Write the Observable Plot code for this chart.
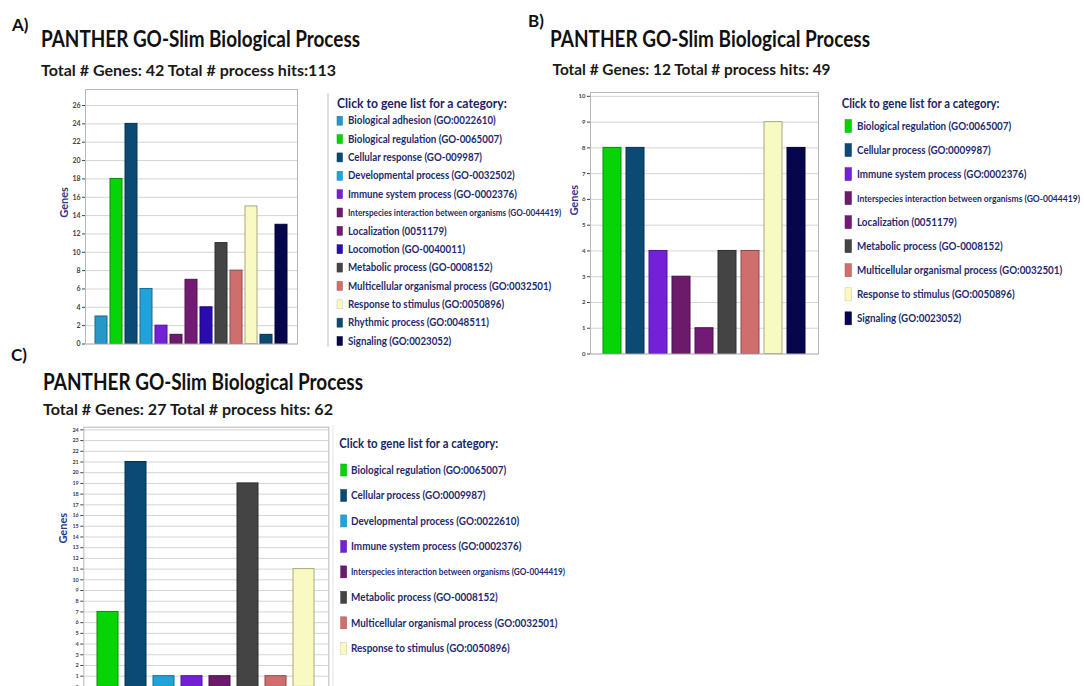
<!DOCTYPE html>
<html>
<head>
<meta charset="utf-8">
<script src="https://cdn.jsdelivr.net/npm/d3@7"></script>
<script src="https://cdn.jsdelivr.net/npm/@observablehq/plot@0.6"></script>
<style>
  html, body { margin: 0; padding: 0; background: #fff; overflow: hidden; }
  #fig { position: relative; width: 1084px; height: 686px; overflow: hidden; background: #fff;
         font-family: Lato, "Open Sans", sans-serif; }
  #fig > svg { position: absolute; overflow: visible; }
</style>
</head>
<body>
<div id="fig"></div>
<script>
// ---------- Panel A: 42 genes, 113 process hits ----------
const categoriesA = [
  "Biological adhesion", "Biological regulation", "Cellular response", "Developmental process",
  "Immune system process", "Interspecies interaction between organisms", "Localization",
  "Locomotion", "Metabolic process", "Multicellular organismal process",
  "Response to stimulus", "Rhythmic process", "Signaling"
];
const goIdsA = [
  " (GO:0022610)", "(GO-0065007)", "(GO-009987)", "(GO-0032502)", "(GO-0002376)",
  "(GO-0044419)", "(0051179)", "(GO-0040011)", "(GO-0008152)", "(GO:0032501)",
  "(GO:0050896)", "(GO:0048511)", "(GO:0023052)"
];
const genesA = [3, 18, 24, 6, 2, 1, 7, 4, 11, 8, 15, 1, 13];
const ticksA = [0, 2, 4, 6, 8, 10, 12, 14, 16, 18, 20, 22, 24, 26];

// ---------- Panel B: 12 genes, 49 process hits ----------
const categoriesB = [
  "Biological regulation", "Cellular process", "Immune system process",
  "Interspecies interaction between organisms", "Localization", "Metabolic process",
  "Multicellular organismal process", "Response to stimulus", "Signaling"
];
const goIdsB = [
  " (GO:0065007)", " (GO:0009987)", "(GO:0002376)", "(GO-0044419)", "(0051179)",
  "(GO-0008152)", "(GO:0032501)", "(GO:0050896)", "(GO:0023052)"
];
const genesB = [8, 8, 4, 3, 1, 4, 4, 9, 8];
const ticksB = [0, 1, 2, 3, 4, 5, 6, 7, 8, 9, 10];

// ---------- Panel C: 27 genes, 62 process hits ----------
const categoriesC = [
  "Biological regulation", "Cellular process", "Developmental process", "Immune system process",
  "Interspecies interaction between organisms", "Metabolic process",
  "Multicellular organismal process", "Response to stimulus"
];
const goIdsC = [
  " (GO:0065007)", " (GO:0009987)", "(GO:0022610)", "(GO:0002376)", "(GO-0044419)",
  "(GO-0008152)", "(GO:0032501)", "(GO:0050896)"
];
const genesC = [7, 21, 1, 1, 1, 19, 1, 11];
const ticksC = [0, 1, 2, 3, 4, 5, 6, 7, 8, 9, 10, 11, 12, 13, 14, 15, 16, 17, 18, 19, 20, 21, 22, 23, 24];

// Headline text
const titleText = "PANTHER GO-Slim Biological Process";
const subtitles = {
  A: "Total # Genes: 42 Total # process hits:113",
  B: "Total # Genes: 12 Total # process hits: 49",
  C: "Total # Genes: 27 Total # process hits: 62"
};
const legendHeader = "Click to gene list for a category:";

// PANTHER category colours
const palette = {
  "Biological adhesion": "#2797c8",
  "Biological regulation": "#06d406",
  "Cellular response": "#0b4a74",
  "Cellular process": "#0b4a74",
  "Developmental process": "#1fa3da",
  "Immune system process": "#7420d6",
  "Interspecies interaction between organisms": "#6c1a6a",
  "Localization": "#731a74",
  "Locomotion": "#2a0bb0",
  "Metabolic process": "#444444",
  "Multicellular organismal process": "#d06e6e",
  "Response to stimulus": "#f9f9c2",
  "Rhythmic process": "#0b4a70",
  "Signaling": "#05064c"
};
// the long interspecies label is set in a smaller type
const smallLabel = new Set(["Interspecies interaction between organisms"]);

const fig = document.getElementById("fig");
const font = 'Lato, "Open Sans", sans-serif';
const navy = "#1f2b6e";

function barPanel({categories, values, ticks, yMax, box, frame, padIn, padOut, tickFont, labelDx, labelDy}) {
  const data = categories.map((c, i) => ({category: c, genes: values[i], color: palette[c]}));
  const chart = Plot.plot({
    width: box.w,
    height: box.h,
    marginLeft: frame.l - box.x,
    marginRight: box.x + box.w - frame.r,
    marginTop: frame.t - box.y,
    marginBottom: box.y + box.h - frame.b,
    style: {background: "transparent", fontFamily: font, overflow: "visible"},
    x: {domain: categories, axis: null, paddingInner: padIn, paddingOuter: padOut},
    y: {domain: [0, yMax], axis: null},
    color: {type: "identity"},
    marks: [
      Plot.gridY(ticks, {stroke: "#d4d4d4", strokeOpacity: 1}),
      Plot.barY(data, {
        x: "category", y: "genes", fill: "color",
        stroke: d => d3.color(d.color).darker(1.1).formatHex(), strokeWidth: 1
      }),
      Plot.frame({stroke: "#b8b8b8"}),
      Plot.axisY(ticks, {
        tickSize: 3, tickPadding: 2, fontSize: tickFont, fontWeight: "bold",
        color: "#444", tickFormat: d3.format("d"), label: null
      }),
      Plot.text(["Genes"], {
        frameAnchor: "left", text: d => d, rotate: -90, dx: labelDx, dy: labelDy,
        fontSize: 11, fontWeight: "bold", fill: "#2b3a8c"
      })
    ]
  });
  chart.style.left = box.x + "px";
  chart.style.top = box.y + "px";
  fig.appendChild(chart);
}

barPanel({
  categories: categoriesA, values: genesA, ticks: ticksA, yMax: 27.75,
  box: {x: 40, y: 80, w: 270, h: 280}, frame: {l: 85, r: 297, t: 89, b: 343.5},
  padIn: 0.23, padOut: 0.68, tickFont: 7, labelDx: -21.5, labelDy: 1
});
barPanel({
  categories: categoriesB, values: genesB, ticks: ticksB, yMax: 10.15,
  box: {x: 550, y: 80, w: 290, h: 285}, frame: {l: 590, r: 818, t: 92, b: 353.5},
  padIn: 0.22, padOut: 0.46, tickFont: 6, labelDx: -16, labelDy: -7.7
});
barPanel({
  categories: categoriesC, values: genesC, ticks: ticksC, yMax: 24.25,
  box: {x: 40, y: 415, w: 300, h: 280}, frame: {l: 83.3, r: 328.3, t: 426.7, b: 686.4},
  padIn: 0.25, padOut: 0.41, tickFont: 5.5, labelDx: -20, labelDy: -13.5
});

// ---------- Text layer: panel letters, titles, legends ----------
const svg = d3.create("svg")
  .attr("width", 1084).attr("height", 686)
  .style("left", "0px").style("top", "0px")
  .style("font-family", font);
fig.appendChild(svg.node());

function fitText(x, y, str, size, width, fill, weight = "bold") {
  return svg.append("text")
    .attr("x", x).attr("y", y)
    .attr("font-size", size).attr("font-weight", weight).attr("fill", fill)
    .attr("textLength", width).attr("lengthAdjust", "spacingAndGlyphs")
    .text(str);
}

// panel letters
svg.append("text").attr("x", 12).attr("y", 31).attr("font-size", 17).attr("font-weight", "bold").attr("fill", "#111").text("A)");
svg.append("text").attr("x", 528).attr("y", 27).attr("font-size", 17).attr("font-weight", "bold").attr("fill", "#111").text("B)");
svg.append("text").attr("x", 11).attr("y", 361).attr("font-size", 17).attr("font-weight", "bold").attr("fill", "#111").text("C)");

// titles and subtitles
fitText(41, 47, titleText, 23, 319, "#111");
fitText(41, 76, subtitles.A, 16, 295, "#1a1a1a");
fitText(550, 47, titleText, 23, 320, "#111");
fitText(552.5, 75, subtitles.B, 16, 278, "#1a1a1a");
fitText(43, 390, titleText, 23, 320, "#111");
fitText(43, 415, subtitles.C, 16, 290, "#1a1a1a");

function legend({categories, goIds, header, row0, step, swatch, textX, headerWidth, itemSize, smallRatio, divider}) {
  const g = svg.append("g");
  if (divider) {
    g.append("line").attr("x1", divider.x).attr("x2", divider.x)
      .attr("y1", divider.y1).attr("y2", divider.y2)
      .attr("stroke", divider.color).attr("stroke-width", 1.5);
  }
  const h = g.append("text").attr("font-size", 13).attr("font-weight", "bold").attr("fill", "#1b2463")
    .text(legendHeader);
  const s = headerWidth / h.node().getComputedTextLength();
  h.attr("transform", `translate(${header.x},${header.y}) scale(${s},1)`);
  categories.forEach((c, i) => {
    const cy = row0 + i * step;
    g.append("rect")
      .attr("x", swatch.x).attr("y", cy - swatch.h / 2)
      .attr("width", swatch.w).attr("height", swatch.h)
      .attr("fill", palette[c]).attr("stroke", d3.color(palette[c]).darker(0.6).formatHex()).attr("stroke-width", 0.5);
    g.append("text")
      .attr("transform", `translate(${textX},${cy}) scale(${s},1)`)
      .attr("dy", "0.35em")
      .attr("font-size", smallLabel.has(c) ? itemSize * smallRatio : itemSize)
      .attr("font-weight", "bold").attr("fill", navy)
      .text(c + " " + goIds[i]);
  });
}

legend({
  categories: categoriesA, goIds: goIdsA, header: {x: 337, y: 108.3},
  row0: 120.7, step: 18.36, swatch: {x: 337, w: 5.5, h: 9}, textX: 348,
  headerWidth: 170, itemSize: 10.4, smallRatio: 0.84,
  divider: {x: 328, y1: 93, y2: 347, color: "#d6d6d6"}
});
legend({
  categories: categoriesB, goIds: goIdsB, header: {x: 841.7, y: 108.3},
  row0: 126, step: 24.04, swatch: {x: 845, w: 6.5, h: 13}, textX: 857,
  headerWidth: 158, itemSize: 11.3, smallRatio: 0.87
});
legend({
  categories: categoriesC, goIds: goIdsC, header: {x: 339.3, y: 448.3},
  row0: 470, step: 25.47, swatch: {x: 340.7, w: 6, h: 12}, textX: 351,
  headerWidth: 159, itemSize: 11.3, smallRatio: 0.83,
  divider: {x: 333, y1: 425, y2: 686, color: "#ececec"}
});
</script>
</body>
</html>
